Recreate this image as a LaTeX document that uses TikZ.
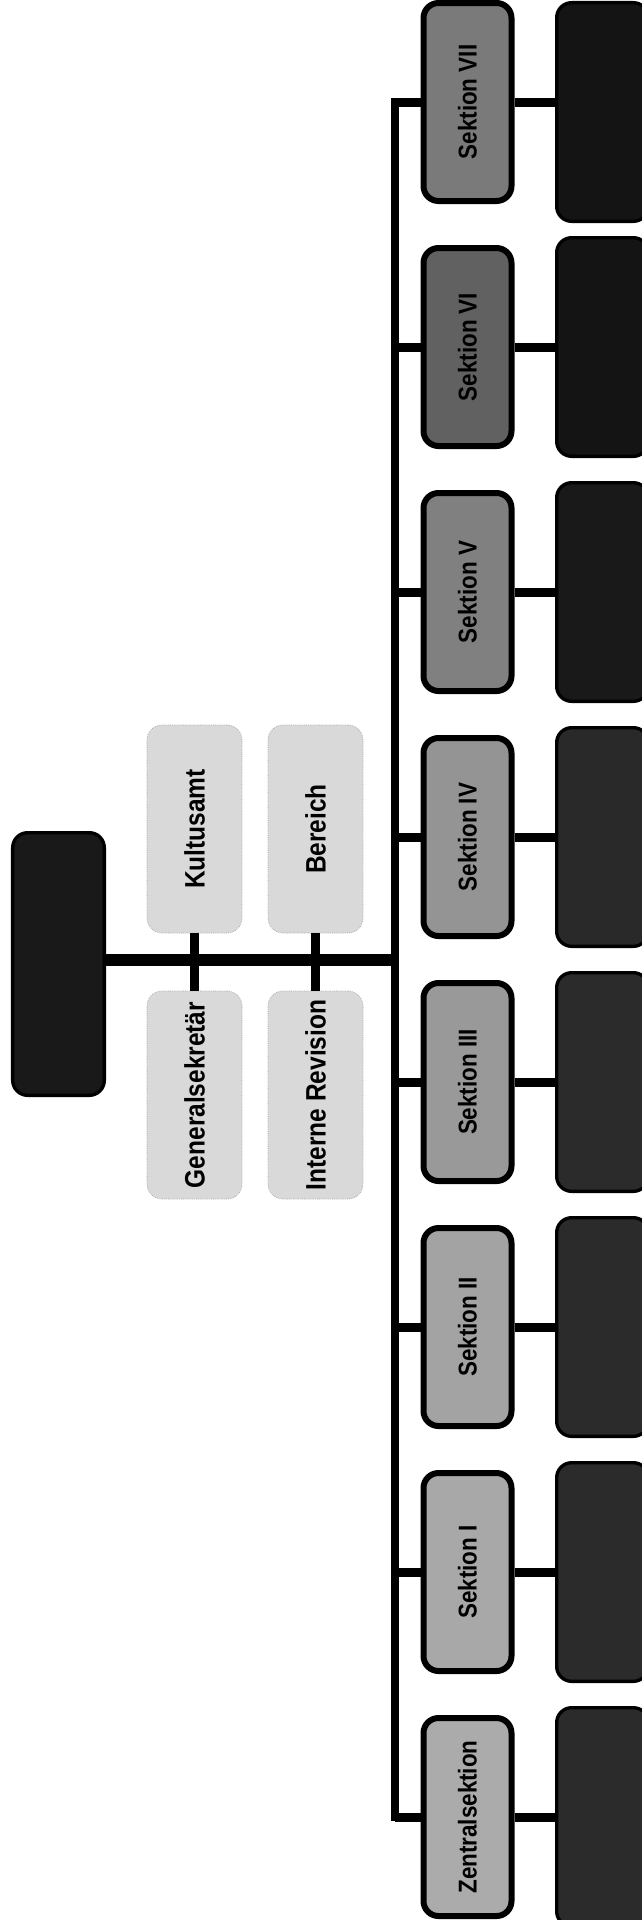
\documentclass[tikz,border=0pt]{standalone}
\usepackage{fontspec}
\setmainfont{Liberation Sans}[FakeStretch=0.87]
\usetikzlibrary{positioning}

\newcommand{\uptext}[1]{\rotatebox{90}{\fontsize{22pt}{26pt}\selectfont\bfseries #1}}
\newcommand{\upstaff}[1]{\rotatebox{90}{\fontsize{24pt}{28pt}\selectfont\bfseries #1}}

\begin{document}
\begin{tikzpicture}[
    x=0.03cm, y=-0.03cm,
    head/.style={rectangle, rounded corners=0.45cm, draw=black, fill=black!90, line width=0.1cm, minimum width=2.75cm, minimum height=7.88cm, inner sep=0pt},
    staff/.style={rectangle, rounded corners=0.45cm, draw=black!35, densely dotted, fill=black!15, line width=0.6pt, minimum width=2.85cm, minimum height=6.24cm, inner sep=0pt},
    sek/.style={rectangle, rounded corners=0.45cm, draw=black, fill=#1, line width=0.18cm, minimum width=2.64cm, minimum height=5.94cm, inner sep=0pt},
    unit/.style={rectangle, rounded corners=0.45cm, draw=black, fill=#1, line width=0.1cm, minimum width=2.75cm, minimum height=6.56cm, inner sep=0pt},
    trunk/.style={draw=black, line width=0.38cm},
    bus/.style={draw=black, line width=0.24cm, line cap=rect},
    stub/.style={draw=black, line width=0.27cm}
]
\clip (0,0) rectangle (642,1920);
\fill[white] (0,0) rectangle (642,1920);

% Leitung (links)
\node[head] (head) at (58.5,964) {};

% Stabsstellen
\node[staff] (kult) at (194.5,829) {\upstaff{Kultusamt}};
\node[staff] (gen) at (194.5,1095) {\upstaff{Generalsekretär}};
\node[staff] (ber) at (315.5,829) {\upstaff{Bereich}};
\node[staff] (rev) at (315.5,1095) {\upstaff{Interne Revision}};

% Sektionen
\node[sek=black!52] (s7) at (467.5,102) {\uptext{Sektion VII}};
\node[sek=black!62] (s6) at (467.5,347) {\uptext{Sektion VI}};
\node[sek=black!50] (s5) at (467.5,592) {\uptext{Sektion V}};
\node[sek=black!42] (s4) at (467.5,837) {\uptext{Sektion IV}};
\node[sek=black!40] (s3) at (467.5,1082) {\uptext{Sektion III}};
\node[sek=black!36] (s2) at (467.5,1327) {\uptext{Sektion II}};
\node[sek=black!34] (s1) at (467.5,1572) {\uptext{Sektion I}};
\node[sek=black!33] (s0) at (467.5,1817) {\uptext{Zentralsektion}};

% Abteilungen (rechts)
\node[unit=black!92] (u7) at (602.5,112) {};
\node[unit=black!92] (u6) at (602.5,347) {};
\node[unit=black!90] (u5) at (602.5,592) {};
\node[unit=black!84] (u4) at (602.5,837) {};
\node[unit=black!83] (u3) at (602.5,1082) {};
\node[unit=black!83] (u2) at (602.5,1327) {};
\node[unit=black!83] (u1) at (602.5,1572) {};
\node[unit=black!83] (u0) at (602.5,1817) {};

% Verbindungen
\coordinate (hub) at (395,960);
\coordinate (btop) at (395,102);
\coordinate (bbot) at (395,1817);
\draw[trunk] (head.east |- hub) -- (hub);
\draw[stub] (kult) -- (gen);
\draw[stub] (ber) -- (rev);
\draw[bus] (btop) -- (bbot);
\draw[stub] (btop) -- (s7);
\draw[stub] (s6 -| btop) -- (s6);
\draw[stub] (s5 -| btop) -- (s5);
\draw[stub] (s4 -| btop) -- (s4);
\draw[stub] (s3 -| btop) -- (s3);
\draw[stub] (s2 -| btop) -- (s2);
\draw[stub] (s1 -| btop) -- (s1);
\draw[stub] (bbot) -- (s0);
\draw[stub] (s7) -- (s7 -| u7.west);
\draw[stub] (s6) -- (u6);
\draw[stub] (s5) -- (u5);
\draw[stub] (s4) -- (u4);
\draw[stub] (s3) -- (u3);
\draw[stub] (s2) -- (u2);
\draw[stub] (s1) -- (u1);
\draw[stub] (s0) -- (u0);
\end{tikzpicture}
\end{document}
